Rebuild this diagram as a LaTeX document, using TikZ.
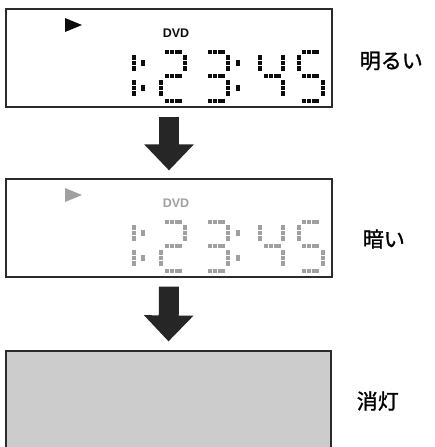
\documentclass[tikz,border=0pt]{standalone}
\usepackage{fontspec}
\setsansfont{Liberation Sans}
\newfontfamily\jpfont{Noto Sans CJK JP}[FakeBold=1.3]
\usetikzlibrary{arrows.meta,positioning}
\definecolor{frame}{HTML}{2B2B2B}
\definecolor{dimseg}{HTML}{A0A0A0}
\definecolor{offfill}{HTML}{CCCCCC}
\tikzset{
  panel/.style={draw=frame, line width=1.2pt, minimum width=326pt, minimum height=98pt, inner sep=0pt},
  seghor/.style={line width=4pt, dash pattern=on 4pt off 1pt on 4pt off 1pt on 9pt off 1pt},
  segver/.style={line width=4pt, dash pattern=on 4.5pt off 1pt},
  bigarrow/.style={line width=20pt, black!85, -{Triangle[length=26pt, width=48pt]}},
  state/.style={font=\jpfont\fontsize{21}{24}\selectfont, inner sep=0pt},
  pics/lcd/.style={code={
    \fill (59,9) -- (76,16) -- (59,23) -- cycle;
    \node[font=\sffamily\bfseries\fontsize{12.5}{12.5}\selectfont, inner sep=0pt] (-dvd) at (170,24) {DVD};
    % segments of 1:23:45
    \foreach \l/\y in {155/42.5, 155/66.5, 155/91.5, 198/42.5, 198/66.5, 198/91.5,
                       254/66.5, 292.5/42.5, 292.5/66.5, 292.5/91.5}
      \draw[seghor] (\l+3.5,\y) -- ++(17,0);
    \foreach \x/\y in {127.5/46, 127.5/71, 179/46, 155/71, 222/46, 222/71,
                       254/46, 276.5/46, 276.5/71, 292.5/46, 316.5/71}
      \draw[segver] (\x,\y) -- ++(0,16);
    % colons
    \foreach \x in {137,232}
      \foreach \y in {54,79}
        \fill (\x-2.2,\y-2.8) rectangle ++(4.4,5.6);
  }}
}
\begin{document}
\begin{tikzpicture}[x=1pt, y=-1pt]
  \useasboundingbox (0,0) rectangle (434,447);
  \node[panel] (bright) at (169,58) {};
  \node[panel] (dim) at (169,228) {};
  \node[panel, fill=offfill, minimum width=325pt, minimum height=100pt] (off) at (168.5,401) {};
  \pic[black!95] (brightlcd) at (6,9) {lcd};
  \pic[dimseg] (dimlcd) at (6,179) {lcd};
  \node[state, right=27pt of bright.east, yshift=-3pt] (brightlbl) {明るい};
  \node[state, right=30pt of dim.east, yshift=-11pt] (dimlbl) {暗い};
  \node[state, right=25pt of off.east] (offlbl) {消灯};
  \draw[bigarrow] ([yshift=-9pt]bright.south) -- ([yshift=8pt]dim.north);
  \draw[bigarrow] ([yshift=-9pt]dim.south) -- ([yshift=9pt]off.north);
\end{tikzpicture}
\end{document}
